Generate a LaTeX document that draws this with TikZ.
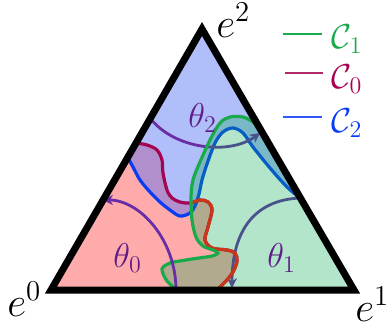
\documentclass[tikz,border=0pt]{standalone}
\usepackage{amsmath,amssymb}
\usepackage{xcolor}
\usetikzlibrary{arrows.meta}

\definecolor{zerofill}{RGB}{255,0,0}
\definecolor{onefill}{RGB}{0,170,80}
\definecolor{twofill}{RGB}{80,110,245}
\definecolor{czerocol}{RGB}{165,5,80}
\definecolor{czerolow}{RGB}{200,55,25}
\definecolor{conecol}{RGB}{25,170,75}
\definecolor{ctwocol}{RGB}{10,60,245}
\definecolor{anglecol}{RGB}{105,45,165}
\definecolor{thetacol}{RGB}{95,30,135}

\tikzset{
    simplex/.style={
        draw=black,
        line width=3.5pt,
        line join=miter
    }
}
\tikzset{
    boundary/.style={
        line width=1.6pt,
        line cap=round
    }
}
\tikzset{
    anglearc/.style={
        draw=anglecol,
        line width=1.4pt,
        -{Stealth[length=5pt,width=5pt]}
    }
}
\tikzset{
    vertexlabel/.style={
        font=\fontsize{21}{24}\selectfont,
        inner sep=0pt
    }
}
\tikzset{
    anglelabel/.style={
        font=\fontsize{18.5}{22}\selectfont,
        text=thetacol,
        inner sep=0pt
    }
}
\tikzset{
    legline/.style={
        line width=1.3pt
    }
}

% boundary curves of the three regions (pixel grid, y downwards)
\newcommand{\pathczero}{plot[smooth, tension=0.55] coordinates {
    (136,143) (147,145) (157,150) (162,160) (163,173) (167,190) (172,198)
    (180,202) (190,203) (200,200) (208,202) (212,210) (208,227) (205,240)
    (212,248) (227,250) (235,253) (237,261) (233,272) (226,281) (217,290)}}
\newcommand{\pathctwo}{plot[smooth, tension=0.55] coordinates {
    (128,158) (133,167) (140,180) (150,192) (160,202) (170,210) (180,216)
    (190,213) (195,206) (199,194) (202,180) (207,164) (215,143) (223,132)
    (233,128) (243,133) (253,147) (270,168) (287,187) (300,198)}}
\newcommand{\pathcone}{plot[smooth, tension=0.55] coordinates {
    (177,290) (167,281) (162,269) (170,263) (180,261) (192,259) (212,256)
    (218,253) (213,250) (203,246) (196,237) (192,220) (191,197) (193,180)
    (200,162) (210,140) (220,123) (230,117) (243,117) (253,122) (258,127)}}

\begin{document}
\begin{tikzpicture}[x=0.5pt, y=-0.5pt]
\useasboundingbox (0,0) rectangle (387,328);

\coordinate (e0) at (51,290);
\coordinate (e1) at (354,290);
\coordinate (e2) at (202,29);

% ------------------------------------------------------------
% Regions
% ------------------------------------------------------------

\fill[zerofill, fill opacity=0.33] \pathczero -- (e0) -- cycle;
\fill[twofill, fill opacity=0.45] \pathctwo -- (e2) -- cycle;

\draw[boundary, ctwocol] \pathctwo;

\draw[anglearc] (150,118) .. controls (175,150) and (230,155) .. (260,133);
\draw[anglearc] (300,198) .. controls (255,200) and (232,230) .. (232,288);

\fill[onefill, fill opacity=0.3] \pathcone -- (e1) -- cycle;

\draw[boundary, czerocol] \pathczero;
\begin{scope}
    \clip \pathcone -- (e1) -- cycle;
    \draw[boundary, czerolow] \pathczero;
\end{scope}

\draw[boundary, conecol] \pathcone;

\draw[anglearc] (176,290) .. controls (176,240) and (140,200) .. (103,200);

% ------------------------------------------------------------
% Simplex and labels
% ------------------------------------------------------------

\draw[simplex] (e0) -- (e1) -- (e2) -- cycle;

\node[vertexlabel, anchor=base west] (lblzero) at (7,316) {$e^0$};
\node[vertexlabel, anchor=base west] (lblone) at (355,321) {$e^1$};
\node[vertexlabel, anchor=base west] (lbltwo) at (216,37) {$e^2$};

\node[anglelabel, anchor=base west] (thzero) at (113,267) {$\theta_0$};
\node[anglelabel, anchor=base west] (thone) at (267,267) {$\theta_1$};
\node[anglelabel, anchor=base west] (thtwo) at (188,127) {$\theta_2$};

% legend
\node[anglelabel, text=conecol, anchor=base west] (legone) at (331,48) {$\mathcal{C}_1$};
\node[anglelabel, text=czerocol, anchor=base west] (legzero) at (331,88) {$\mathcal{C}_0$};
\node[anglelabel, text=ctwocol, anchor=base west] (legtwo) at (331,132) {$\mathcal{C}_2$};

\draw[legline, conecol] (283,34) -- (322,34);
\draw[legline, czerocol!85!white] (285,73) -- (323,73);
\draw[legline, ctwocol!85!white] (283,117) -- (322,117);

\end{tikzpicture}
\end{document}
